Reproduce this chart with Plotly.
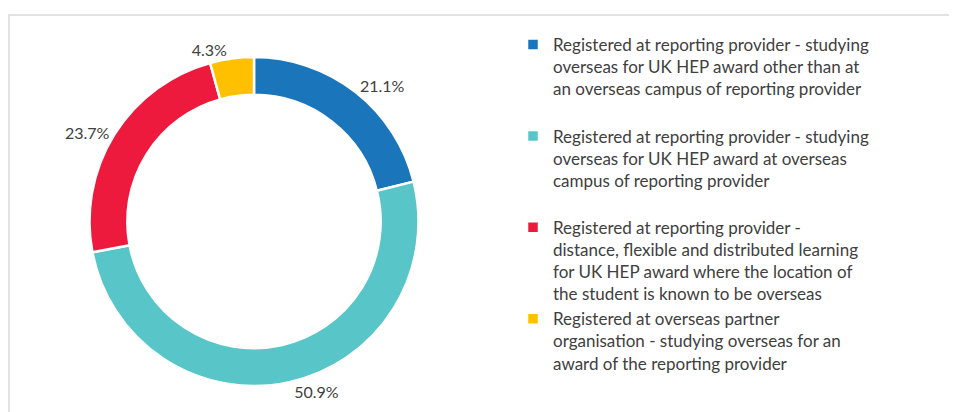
import plotly.graph_objects as go

W, H = 957, 412
OFF = 8  # page body margin in the browser
FW, FH = W - OFF, H - OFF

labels = [
    "Registered at reporting provider - studying<br>overseas for UK HEP award other than at<br>an overseas campus of reporting provider<br> ",
    "Registered at reporting provider - studying<br>overseas for UK HEP award at overseas<br>campus of reporting provider<br> ",
    "Registered at reporting provider -<br>distance, flexible and distributed learning<br>for UK HEP award where the location of<br>the student is known to be overseas",
    "Registered at overseas partner<br>organisation - studying overseas for an<br>award of the reporting provider",
]
values = [21.1, 50.9, 23.7, 4.3]
colors = ["#1B75BB", "#58C6C8", "#EE1A3D", "#FFC000"]

# target geometry in page pixels
cx, cy, r = 254 - OFF, 221.5 - OFF, 164.5

fig = go.Figure(go.Pie(
    labels=labels,
    values=values,
    sort=False,
    direction="clockwise",
    rotation=0,
    hole=0.77,
    marker=dict(colors=colors, line=dict(color="white", width=2.5)),
    textinfo="text",
    text=[f"{v:.1f}%" for v in values],
    textposition="outside",
    outsidetextfont=dict(size=16, color="#404040", family="Lato"),
    domain=dict(x=[(cx - r) / FW, (cx + r) / FW],
                y=[(FH - cy - r) / FH, (FH - cy + r) / FH]),
    showlegend=True,
))

fig.add_shape(type="rect", xref="paper", yref="paper",
              x0=1 / FW, x1=1.1, y0=-0.1, y1=1 - 7 / FH,
              line=dict(color="#D9D9D9", width=1.5), layer="below")

fig.update_layout(
    width=FW, height=FH,
    margin=dict(l=0, r=0, t=0, b=0),
    paper_bgcolor="white", plot_bgcolor="white",
    font=dict(family="Lato", size=17, color="#404040"),
    legend=dict(x=(513 - OFF) / FW, y=1 - (27 - OFF) / FH, xanchor="left", yanchor="top",
                valign="top", traceorder="normal", bgcolor="rgba(0,0,0,0)",
                font=dict(size=17, family="Lato", color="#404040"),
                itemwidth=30),
)

fig.write_html("out.html")
